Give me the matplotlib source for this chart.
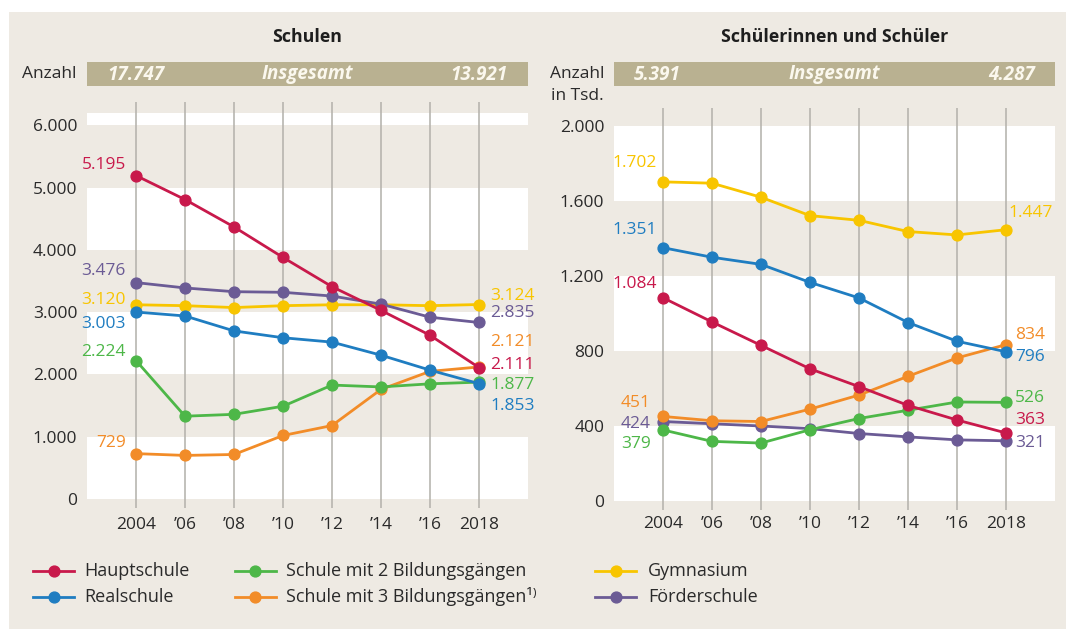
import matplotlib
matplotlib.use("Agg")
import matplotlib.pyplot as plt
from matplotlib.patches import Rectangle
from matplotlib.lines import Line2D

plt.rcParams['font.family'] = ['Open Sans', 'DejaVu Sans']

# ---------------- data ----------------
years = [2004, 2006, 2008, 2010, 2012, 2014, 2016, 2018]
year_labels = ['2004', '’06', '’08', '’10', '’12', '’14', '’16', '2018']

series_names = ['Hauptschule', 'Realschule', 'Schule mit 2 Bildungsgängen',
                'Schule mit 3 Bildungsgängen¹⁾', 'Gymnasium', 'Förderschule']

# Schulen (Anzahl)
schulen_haupt = [5195, 4810, 4370, 3880, 3410, 3030, 2630, 2111]
schulen_real = [3003, 2940, 2700, 2590, 2520, 2310, 2070, 1853]
schulen_zwei = [2224, 1330, 1360, 1490, 1830, 1800, 1850, 1877]
schulen_drei = [729, 700, 715, 1020, 1180, 1760, 2050, 2121]
schulen_gym = [3120, 3105, 3075, 3105, 3120, 3120, 3105, 3124]
schulen_foerder = [3476, 3390, 3330, 3320, 3260, 3130, 2920, 2835]
schulen_total = ['17.747', '13.921']
schulen_ticks = [0, 1000, 2000, 3000, 4000, 5000, 6000]

# Schülerinnen und Schüler (in Tsd.)
schueler_haupt = [1084, 955, 830, 705, 610, 510, 432, 363]
schueler_real = [1351, 1300, 1262, 1166, 1083, 952, 852, 796]
schueler_zwei = [379, 318, 309, 380, 440, 484, 528, 526]
schueler_drei = [451, 428, 424, 490, 565, 665, 763, 834]
schueler_gym = [1702, 1695, 1620, 1522, 1497, 1437, 1419, 1447]
schueler_foerder = [424, 412, 400, 386, 360, 342, 326, 321]
schueler_total = ['5.391', '4.287']
schueler_ticks = [0, 400, 800, 1200, 1600, 2000]

# ---------------- style ----------------
W, H = 1066, 629
beige = '#eeeae3'
barcol = '#b9b191'
colors = ['#c8194b', '#1f7dc1', '#4db748', '#f28c28', '#f8c500', '#6b5b95']
draw_order = [4, 5, 3, 2, 0, 1]
txt = '#2a2a2a'
fs_tick = 12.5
fs_val = 12.5
fs_leg = 13
fs_bar = 13.5
fs_title = 12.8
LW = 2.0
MS = 7.8


def de(v):
    return f'{v:,}'.replace(',', '.')


fig = plt.figure(figsize=(W / 100, H / 100), dpi=100)
fig.patch.set_facecolor('white')
fig.add_artist(Rectangle((9 / W, 0), 1, 1 - 12 / H, transform=fig.transFigure,
                         facecolor=beige, edgecolor='none', zorder=0))


def panel(rect, data, ticks, ytop, title, totals, grid_ext, xpad,
          start_off, end_off):
    ax = fig.add_axes(rect)
    ax.set_facecolor('none')
    for s in ax.spines.values():
        s.set_visible(False)
    ax.set_xlim(2002, 2020)
    ax.set_ylim(0, ytop)
    bounds = ticks + [ytop] if ticks[-1] < ytop else ticks
    for i in range(len(bounds) - 1):
        if i % 2 == 0:
            ax.axhspan(bounds[i], bounds[i + 1], facecolor='white',
                       edgecolor='none', zorder=0)
    ax.vlines(years, grid_ext[0], grid_ext[1], transform=ax.get_xaxis_transform(),
              colors='#b2b0aa', lw=1.1, clip_on=False, zorder=1)
    for k in draw_order:
        ax.plot(years, data[k], color=colors[k], lw=LW, marker='o', ms=MS,
                zorder=3 + draw_order.index(k), clip_on=False)
    for k in range(6):
        dx, dy = start_off[k]
        ax.annotate(de(data[k][0]), (years[0], data[k][0]), xytext=(dx, dy),
                    textcoords='offset pixels', ha='right', va='center',
                    color=colors[k], fontsize=fs_val)
        dx, dy = end_off[k]
        ax.annotate(de(data[k][-1]), (years[-1], data[k][-1]), xytext=(dx, dy),
                    textcoords='offset pixels', ha='left', va='center',
                    color=colors[k], fontsize=fs_val)
    ax.set_yticks(ticks)
    ax.set_yticklabels([de(t) for t in ticks])
    ax.set_xticks(years)
    ax.set_xticklabels(year_labels)
    ax.tick_params(axis='both', length=0, labelsize=fs_tick, colors=txt)
    ax.tick_params(axis='y', pad=7)
    ax.tick_params(axis='x', pad=xpad)
    # header bar
    x0 = rect[0]
    x1 = rect[0] + rect[2]
    fig.add_artist(Rectangle((x0, 1 - 86 / H), rect[2], 24 / H,
                             transform=fig.transFigure, facecolor=barcol,
                             edgecolor='none', zorder=1))
    yb = 1 - 74.5 / H
    cx = (x0 + x1) / 2
    fig.text(cx, yb, 'Insgesamt', ha='center', va='center', color='#fbf8ee',
             fontsize=fs_bar, fontweight='bold', style='italic', zorder=2)
    fig.text(x0 + 20 / W, yb, totals[0], ha='left', va='center', color='#fbf8ee',
             fontsize=fs_bar, fontweight='bold', style='italic', zorder=2)
    fig.text(x1 - 20 / W, yb, totals[1], ha='right', va='center', color='#fbf8ee',
             fontsize=fs_bar, fontweight='bold', style='italic', zorder=2)
    fig.text(cx, 1 - 37 / H, title, ha='center', va='center', color='#1e1e1e',
             fontsize=fs_title, fontweight='bold')
    return ax


left_data = [schulen_haupt, schulen_real, schulen_zwei, schulen_drei,
             schulen_gym, schulen_foerder]
right_data = [schueler_haupt, schueler_real, schueler_zwei, schueler_drei,
              schueler_gym, schueler_foerder]

panel([87 / W, 1 - 499 / H, 441 / W, 386 / H], left_data, schulen_ticks, 6200,
      'Schulen', schulen_total, (-0.023, 1.0285), 13,
      start_off=[(-10, 11), (-10, -12), (-10, 9), (-10, 11), (-10, 5), (-10, 12)],
      end_off=[(11, 3), (11, -22), (11, -3), (11, 25), (11, 9), (11, 9)])

panel([614 / W, 1 - 501 / H, 441 / W, 375 / H], right_data, schueler_ticks, 2000,
      'Schülerinnen und Schüler', schueler_total, (-0.024, 1.048), 11,
      start_off=[(-6, 14), (-6, 18), (-12, -14), (-12, 13), (-6, 19), (-12, -2)],
      end_off=[(9, 13), (9, -5), (9, 4), (9, 10), (2, 17), (9, -2)])

fig.text(77 / W, 1 - 74.5 / H, 'Anzahl', ha='right', va='center', color=txt,
         fontsize=fs_tick)
fig.text(604 / W, 1 - 74.5 / H, 'Anzahl', ha='right', va='center', color=txt,
         fontsize=fs_tick)
fig.text(604 / W, 1 - 96 / H, 'in Tsd.', ha='right', va='center', color=txt,
         fontsize=fs_tick)

# legend
leg_cols = [(33, 74, 84), (235, 276, 286), (595, 636, 648)]
leg_rows = [571, 597]
leg_pos = [(0, 0), (0, 1), (1, 0), (1, 1), (2, 0), (2, 1)]
for k, name in enumerate(series_names):
    c, r = leg_pos[k]
    xa, xb, xt = leg_cols[c]
    y = 1 - leg_rows[r] / H
    fig.add_artist(Line2D([xa / W, xb / W], [y, y], transform=fig.transFigure,
                          color=colors[k], lw=LW))
    fig.add_artist(Line2D([(xa + xb) / 2 / W], [y], transform=fig.transFigure,
                          color=colors[k], marker='o', ms=MS, lw=0))
    fig.text(xt / W, y, name, ha='left', va='center', color=txt, fontsize=fs_leg)

fig.savefig('out.png', dpi=100, facecolor='white')
